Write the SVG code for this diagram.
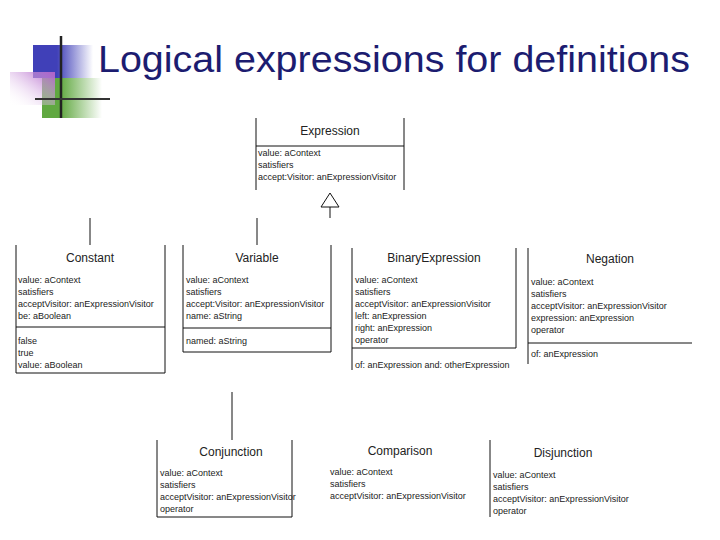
<svg xmlns="http://www.w3.org/2000/svg" width="720" height="540" viewBox="0 0 720 540">
<style>
.t{font-family:"Liberation Sans",Arial,sans-serif;font-size:12px;fill:#222;text-anchor:middle}
.a{font-family:"Liberation Sans",Arial,sans-serif;font-size:9px;fill:#222}
.l{stroke:#111;stroke-width:1;fill:none}
</style>
<defs>
<linearGradient id="gb" x1="0" x2="1"><stop offset="0.4" stop-color="#4040b8"/><stop offset="1" stop-color="#4040b8" stop-opacity="0"/></linearGradient>
<linearGradient id="gp" x1="1" x2="0" y1="0" y2="1"><stop offset="0" stop-color="#b060c8"/><stop offset="1" stop-color="#fff" stop-opacity="0"/></linearGradient>
<linearGradient id="gg" x1="0" x2="1"><stop offset="0.3" stop-color="#60a840"/><stop offset="1" stop-color="#60a840" stop-opacity="0"/></linearGradient>
</defs>
<rect width="720" height="540" fill="#fff"/>
<g id="logo">
<rect x="33" y="45" width="60" height="33" fill="url(#gb)"/>
<rect x="42" y="78" width="60" height="40" fill="url(#gg)"/>
<rect x="10" y="72" width="45" height="33" fill="url(#gp)"/>
<line x1="61" y1="36" x2="61" y2="118" stroke="#222" stroke-width="2.5"/>
<line x1="35" y1="99" x2="110" y2="99" stroke="#333" stroke-width="2"/>
</g>
<text x="98" y="72" font-family="Liberation Sans,Arial,sans-serif" font-size="37" fill="#1c1c70" textLength="592" lengthAdjust="spacingAndGlyphs">Logical expressions for definitions</text>
<g id="connectors" class="l">
<path d="M330 207 V218"/>
<path d="M321 207 L330 193 L339 207 Z" fill="#fff"/>
<path d="M90 218 V245 M257 218 V245 M232 392 V440"/>
</g>
<g id="expression">
<path class="l" d="M256 118 V190 M404 118 V190 M256 146 H404"/>
<text class="t" x="330" y="135">Expression</text>
<text class="a" x="258" y="156">value: aContext</text><text class="a" x="258" y="168">satisfiers</text><text class="a" x="258" y="180">accept:Visitor: anExpressionVisitor</text>
</g>
<g id="constant">
<path class="l" d="M16 245 V373 H165 V245 M16 327 H165"/>
<text class="t" x="90" y="262">Constant</text>
<text class="a" x="18" y="283">value: aContext</text><text class="a" x="18" y="295">satisfiers</text><text class="a" x="18" y="307">acceptVisitor: anExpressionVisitor</text><text class="a" x="18" y="319">be: aBoolean</text>
<text class="a" x="18" y="344">false</text><text class="a" x="18" y="356">true</text><text class="a" x="18" y="368">value: aBoolean</text>
</g>
<g id="variable">
<path class="l" d="M183 245 V352 H331 V245 M183 328 H331"/>
<text class="t" x="257" y="262">Variable</text>
<text class="a" x="186" y="283">value: aContext</text><text class="a" x="186" y="295">satisfiers</text><text class="a" x="186" y="307">accept:Visitor: anExpressionVisitor</text><text class="a" x="186" y="319">name: aString</text>
<text class="a" x="186" y="344">named: aString</text>
</g>
<g id="binary">
<path class="l" d="M352 248 V370 M352 348 H516 V248"/>
<text class="t" x="434" y="262">BinaryExpression</text>
<text class="a" x="355" y="283">value: aContext</text><text class="a" x="355" y="295">satisfiers</text><text class="a" x="355" y="307">acceptVisitor: anExpressionVisitor</text><text class="a" x="355" y="319">left: anExpression</text><text class="a" x="355" y="331">right: anExpression</text><text class="a" x="355" y="343">operator</text>
<text class="a" x="355" y="368">of: anExpression and: otherExpression</text>
</g>
<g id="negation">
<path class="l" d="M528 248 V364 M528 343 H692"/>
<text class="t" x="610" y="263">Negation</text>
<text class="a" x="531" y="285">value: aContext</text><text class="a" x="531" y="297">satisfiers</text><text class="a" x="531" y="309">acceptVisitor: anExpressionVisitor</text><text class="a" x="531" y="321">expression: anExpression</text><text class="a" x="531" y="333">operator</text>
<text class="a" x="531" y="357">of: anExpression</text>
</g>
<g id="conjunction">
<path class="l" d="M157 440 V517 H292 V440"/>
<text class="t" x="231" y="456">Conjunction</text>
<text class="a" x="160" y="476">value: aContext</text><text class="a" x="160" y="488">satisfiers</text><text class="a" x="160" y="500">acceptVisitor: anExpressionVisitor</text><text class="a" x="160" y="512">operator</text>
</g>
<g id="comparison">
<text class="t" x="400" y="455">Comparison</text>
<text class="a" x="330" y="475">value: aContext</text><text class="a" x="330" y="487">satisfiers</text><text class="a" x="330" y="499">acceptVisitor: anExpressionVisitor</text>
</g>
<g id="disjunction">
<path class="l" d="M490 440 V517"/>
<text class="t" x="563" y="457">Disjunction</text>
<text class="a" x="493" y="478">value: aContext</text><text class="a" x="493" y="490">satisfiers</text><text class="a" x="493" y="502">acceptVisitor: anExpressionVisitor</text><text class="a" x="493" y="514">operator</text>
</g>
</svg>
